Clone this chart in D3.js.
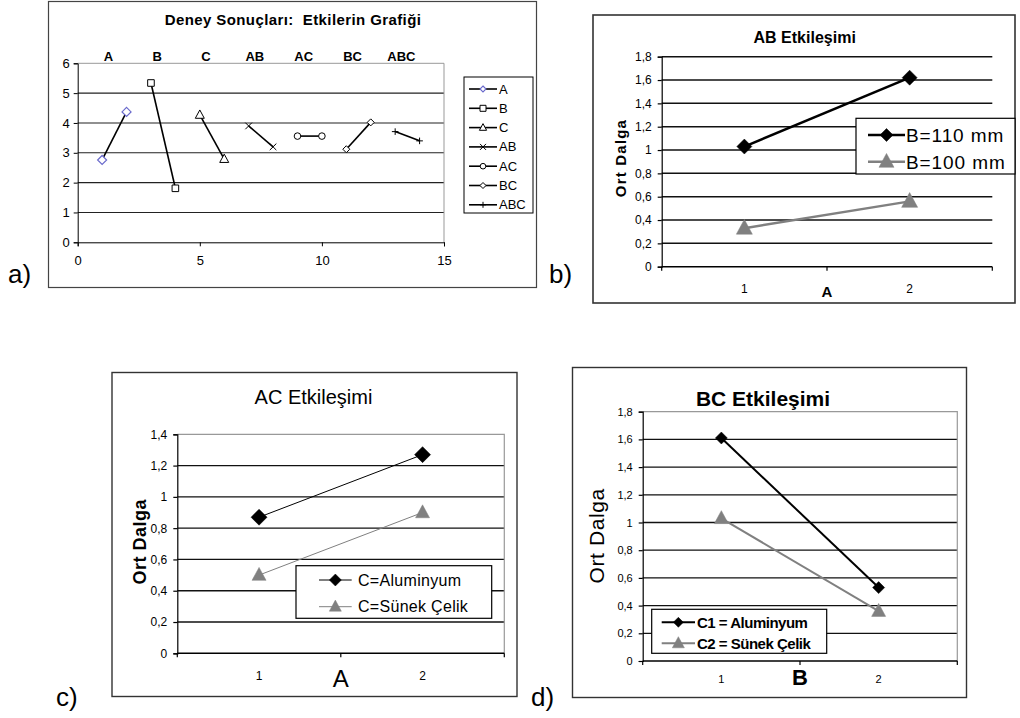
<!DOCTYPE html>
<html>
<head>
<meta charset="utf-8">
<script src="https://cdn.jsdelivr.net/npm/d3@7"></script>
<style>
  body { margin: 0; background: #fff; }
  text { font-family: "Liberation Sans", Arial, sans-serif; fill: #000; }
</style>
</head>
<body>
<div id="chart"></div>
<script>
// a) effects plot - each effect is a pair of runs
const effectNames = ["A", "B", "C", "AB", "AC", "BC", "ABC"];
const effectX = [[1, 2], [3, 4], [5, 6], [7, 8], [9, 10], [11, 12], [13, 14]];
const effectY = [[2.76, 4.37], [5.34, 1.81], [4.27, 2.79], [3.9, 3.2], [3.56, 3.56], [3.12, 4.02], [3.71, 3.4]];
const effectMarkers = ["diamond", "square", "triangle", "x", "circle", "smallDiamond", "plus"];
const effectXTicks = [0, 5, 10, 15];
const effectYTicks = [0, 1, 2, 3, 4, 5, 6];

// b) AB interaction
const abLevels = ["1", "2"];
const abSeries = ["B=110 mm", "B=100 mm"];
const abValues = [[1.03, 1.62], [0.33, 0.56]];

// c) AC interaction
const acLevels = ["1", "2"];
const acSeries = ["C=Aluminyum", "C=Sünek Çelik"];
const acValues = [[0.87, 1.27], [0.5, 0.9]];

// d) BC interaction
const bcLevels = ["1", "2"];
const bcSeries = ["C1 = Aluminyum", "C2 = Sünek Çelik"];
const bcValues = [[1.61, 0.53], [1.03, 0.36]];

const svg = d3.select("#chart")
    .append("svg")
    .attr("width", 1020)
    .attr("height", 718);

const trFormat = d3.formatLocale({ decimal: ",", thousands: ".", grouping: [3], currency: ["", ""] }).format(".1~f");

// draws one marker shape centred at cx,cy
function marker(g, type, cx, cy, s, fill, stroke, sw) {
    if (type === "circle") {
        g.append("circle").attr("cx", cx).attr("cy", cy).attr("r", s)
            .attr("fill", fill).attr("stroke", stroke).attr("stroke-width", sw);
        return;
    }
    let p;
    if (type === "diamond" || type === "smallDiamond") p = `M${cx},${cy - s}L${cx + s},${cy}L${cx},${cy + s}L${cx - s},${cy}Z`;
    else if (type === "square") p = `M${cx - s},${cy - s}h${2 * s}v${2 * s}h${-2 * s}Z`;
    else if (type === "triangle") p = `M${cx},${cy - s * 1.1}L${cx + s},${cy + s * 0.75}L${cx - s},${cy + s * 0.75}Z`;
    else if (type === "x") p = `M${cx - s},${cy - s}L${cx + s},${cy + s}M${cx - s},${cy + s}L${cx + s},${cy - s}`;
    else if (type === "plus") p = `M${cx - s},${cy}L${cx + s},${cy}M${cx},${cy - s}L${cx},${cy + s}`;
    g.append("path").attr("d", p).attr("fill", fill).attr("stroke", stroke).attr("stroke-width", sw);
}

// ---------- panel a ----------
const ga = svg.append("g");
ga.append("rect").attr("x", 48.5).attr("y", 1.5).attr("width", 488).attr("height", 286)
    .attr("fill", "#fff").attr("stroke", "#444").attr("stroke-width", 1.2);

const xa = d3.scaleLinear().domain([0, 15]).range([77.7, 444]);
const ya = d3.scaleLinear().domain([0, 6]).range([242.3, 63.3]);

// grid
ga.selectAll(".grid").data(effectYTicks.slice(1, -1)).enter().append("line")
    .attr("x1", xa(0)).attr("x2", xa(15)).attr("y1", d => ya(d)).attr("y2", d => ya(d))
    .attr("stroke", "#222").attr("stroke-width", 1.1);
ga.append("path").attr("d", `M${xa(0)},${ya(6)}H${xa(15)}V${ya(0)}`)
    .attr("fill", "none").attr("stroke", "#999").attr("stroke-width", 1);

ga.append("g").attr("transform", `translate(${xa(0)},0)`)
    .call(d3.axisLeft(ya).tickValues(effectYTicks).tickFormat(d3.format("d")).tickSize(4).tickPadding(4))
    .call(g => g.selectAll("text").attr("font-size", 13).attr("font-family", "Liberation Sans"))
    .call(g => g.selectAll("path,line").attr("stroke", "#000"));
ga.append("g").attr("transform", `translate(0,${ya(0)})`)
    .call(d3.axisBottom(xa).tickValues(effectXTicks).tickSize(4).tickPadding(9))
    .call(g => g.selectAll("text").attr("font-size", 13).attr("font-family", "Liberation Sans"))
    .call(g => g.selectAll("path,line").attr("stroke", "#000"));

ga.append("text").attr("x", 293).attr("y", 25).attr("text-anchor", "middle")
    .attr("font-size", 15).attr("font-weight", "bold").attr("letter-spacing", 0.4)
    .style("white-space", "pre")
    .text("Deney Sonuçları:  Etkilerin Grafiği");

effectNames.forEach((name, i) => {
    ga.append("text").attr("x", xa(d3.mean(effectX[i])) - 6).attr("y", 61)
        .attr("text-anchor", "middle").attr("font-size", 13).attr("font-weight", "bold").text(name);
    const pts = effectX[i].map((x, j) => [xa(x), ya(effectY[i][j])]);
    ga.append("path").attr("d", d3.line()(pts)).attr("fill", "none").attr("stroke", "#000").attr("stroke-width", 1.6);
    const m = effectMarkers[i];
    pts.forEach(p => {
        if (m === "diamond") marker(ga, m, p[0], p[1], 4.5, "#fff", "#6a6acc", 1.2);
        else if (m === "smallDiamond") marker(ga, m, p[0], p[1], 3.5, "#fff", "#000", 1);
        else if (m === "circle") marker(ga, m, p[0], p[1], 3.3, "#fff", "#000", 1);
        else if (m === "triangle") marker(ga, m, p[0], p[1], 4.5, "#fff", "#000", 1);
        else marker(ga, m, p[0], p[1], 3.3, m === "square" ? "#fff" : "none", "#000", 1);
    });
});

// legend a
ga.append("rect").attr("x", 464).attr("y", 77).attr("width", 69).attr("height", 136)
    .attr("fill", "#fff").attr("stroke", "#000").attr("stroke-width", 1);
effectNames.forEach((name, i) => {
    const cy = 89 + i * 19.3;
    ga.append("line").attr("x1", 469).attr("x2", 497).attr("y1", cy).attr("y2", cy)
        .attr("stroke", "#000").attr("stroke-width", 1.6);
    const m = effectMarkers[i];
    if (m === "diamond") marker(ga, m, 483, cy, 3, "#fff", "#6a6acc", 1.1);
    else if (m === "circle") marker(ga, m, 483, cy, 2.8, "#fff", "#000", 1);
    else if (m === "triangle") marker(ga, m, 483, cy, 3.6, "#fff", "#000", 1);
    else marker(ga, m, 483, cy, 3, m === "plus" || m === "x" ? "none" : "#fff", "#000", 1);
    ga.append("text").attr("x", 499).attr("y", cy).attr("dy", "0.35em").attr("font-size", 13).text(name);
});

// ---------- interaction panels ----------
function interaction(levels, series, values, L) {
    const g = svg.append("g");
    g.append("rect").attr("x", L.frame[0]).attr("y", L.frame[1])
        .attr("width", L.frame[2] - L.frame[0]).attr("height", L.frame[3] - L.frame[1])
        .attr("fill", "#fff").attr("stroke", "#333").attr("stroke-width", L.frameW);

    const x = d3.scaleBand().domain(levels).range([L.plot[0], L.plot[2]]);
    const y = d3.scaleLinear().domain([0, L.yMax]).range([L.plot[3], L.plot[1]]);
    const yTicks = d3.range(0, L.yMax + 0.001, 0.2);

    g.selectAll(".grid").data(yTicks.slice(1, L.border ? -1 : yTicks.length)).enter().append("line")
        .attr("x1", L.plot[0]).attr("x2", L.plot[2]).attr("y1", d => y(d)).attr("y2", d => y(d))
        .attr("stroke", "#111").attr("stroke-width", L.gridW);
    if (L.border) {
        g.append("path").attr("d", `M${L.plot[0]},${y(L.yMax)}H${L.plot[2]}V${y(0)}`)
            .attr("fill", "none").attr("stroke", "#999").attr("stroke-width", 1.2);
    }

    g.append("g").attr("transform", `translate(${L.plot[0]},0)`)
        .call(d3.axisLeft(y).tickValues(yTicks).tickFormat(trFormat).tickSize(4).tickPadding(L.tickPad))
        .call(a => a.selectAll("text").attr("font-size", L.tickFont).attr("font-family", "Liberation Sans"))
        .call(a => a.selectAll("path,line").attr("stroke", "#000").attr("stroke-width", 1.2));

    // x axis: ticks sit on the band edges, labels at band centres
    const edges = [L.plot[0], L.plot[0] + x.bandwidth(), L.plot[2]];
    g.append("line").attr("x1", L.plot[0]).attr("x2", L.plot[2]).attr("y1", y(0)).attr("y2", y(0))
        .attr("stroke", "#000").attr("stroke-width", 1.4);
    g.selectAll(".xt").data(edges).enter().append("line")
        .attr("x1", d => d).attr("x2", d => d).attr("y1", y(0)).attr("y2", y(0) + 4)
        .attr("stroke", "#000").attr("stroke-width", 1.2);
    g.selectAll(".xl").data(levels).enter().append("text")
        .attr("x", d => x(d) + x.bandwidth() / 2).attr("y", L.xTickY)
        .attr("text-anchor", "middle").attr("font-size", L.tickFont).text(d => d);

    g.append("text").attr("x", L.title.x).attr("y", L.title.y).attr("text-anchor", "middle")
        .attr("font-size", L.title.size).attr("font-weight", L.title.weight).text(L.title.text);
    g.append("text").attr("transform", `translate(${L.yLabel.x},${L.yLabel.y}) rotate(-90)`)
        .attr("text-anchor", "middle").attr("font-size", L.yLabel.size).attr("font-weight", L.yLabel.weight)
        .attr("letter-spacing", L.yLabel.ls).text("Ort Dalga");
    g.append("text").attr("x", edges[1]).attr("y", L.xLabel.y).attr("text-anchor", "middle")
        .attr("font-size", L.xLabel.size).attr("font-weight", L.xLabel.weight).text(L.xLabel.text);

    const colors = ["#000", "#808080"];
    const shapes = ["diamond", "triangle"];
    values.forEach((vals, i) => {
        const pts = levels.map((lv, j) => [x(lv) + x.bandwidth() / 2, y(vals[j])]);
        g.append("path").attr("d", d3.line()(pts)).attr("fill", "none")
            .attr("stroke", colors[i]).attr("stroke-width", L.lineW);
        pts.forEach(p => marker(g, shapes[i], p[0], p[1], L.mSize[i], colors[i], colors[i], 0.5));
    });

    const lg = L.legend;
    g.append("rect").attr("x", lg.box[0]).attr("y", lg.box[1])
        .attr("width", lg.box[2] - lg.box[0]).attr("height", lg.box[3] - lg.box[1])
        .attr("fill", "#fff").attr("stroke", "#000").attr("stroke-width", 1.2);
    series.forEach((s, i) => {
        const cy = lg.rows[i];
        g.append("line").attr("x1", lg.line[0]).attr("x2", lg.line[1]).attr("y1", cy).attr("y2", cy)
            .attr("stroke", colors[i]).attr("stroke-width", L.lineW);
        marker(g, shapes[i], (lg.line[0] + lg.line[1]) / 2, cy, lg.mSize[i], colors[i], colors[i], 0.5);
        g.append("text").attr("x", lg.textX).attr("y", cy).attr("dy", "0.36em")
            .attr("font-size", lg.size).attr("font-weight", lg.weight).attr("letter-spacing", lg.ls)
            .text(s);
    });
}

interaction(abLevels, abSeries, abValues, {
    frame: [593, 15, 1015, 303], frameW: 1.6, plot: [661.7, 56.7, 992.3, 266.7], yMax: 1.8,
    border: false, gridW: 1.5, tickFont: 12, tickPad: 6, xTickY: 292.5, lineW: 2.5, mSize: [7.5, 8],
    title: { text: "AB Etkileşimi", x: 804.7, y: 43.3, size: 16, weight: "bold" },
    yLabel: { x: 626, y: 158, size: 15, weight: "bold", ls: 1.2 },
    xLabel: { text: "A", y: 296.7, size: 15, weight: "bold" },
    legend: { box: [856, 118.3, 1015, 174], rows: [135, 161.7], line: [868, 905], textX: 906,
        size: 19, weight: "normal", ls: 0.9, mSize: [6.5, 7.5] }
});

interaction(acLevels, acSeries, acValues, {
    frame: [112, 372.5, 517, 696.5], frameW: 1.4, plot: [177.3, 434.3, 504.3, 653.3], yMax: 1.4,
    border: true, gridW: 1.3, tickFont: 12, tickPad: 6, xTickY: 680, lineW: 1, mSize: [8, 7],
    title: { text: "AC Etkileşimi", x: 313.5, y: 404, size: 20, weight: "normal" },
    yLabel: { x: 146, y: 541.7, size: 18, weight: "bold", ls: 0.5 },
    xLabel: { text: "A", y: 686.7, size: 24, weight: "normal" },
    legend: { box: [296, 565.7, 491.7, 618.3], rows: [580, 606.7], line: [319, 351.7], textX: 358,
        size: 16, weight: "normal", ls: 0.3, mSize: [6, 6] }
});

interaction(bcLevels, bcSeries, bcValues, {
    frame: [572.5, 367.5, 966.5, 697.5], frameW: 1.4, plot: [642.7, 411.7, 957.3, 661], yMax: 1.8,
    border: true, gridW: 1.3, tickFont: 11, tickPad: 6, xTickY: 683.3, lineW: 2, mSize: [6, 7],
    title: { text: "BC Etkileşimi", x: 763, y: 406, size: 21, weight: "bold" },
    yLabel: { x: 604, y: 535.8, size: 21, weight: "normal", ls: 0.6 },
    xLabel: { text: "B", y: 685, size: 22, weight: "bold" },
    legend: { box: [651.7, 609.3, 826.7, 653.3], rows: [622.3, 643.3], line: [661.7, 695], textX: 697,
        size: 15, weight: "bold", ls: -0.5, mSize: [5, 6] }
});

// panel letters
const letters = [["a)", 8, 283], ["b)", 549, 283], ["c)", 56, 706], ["d)", 531, 706]];
svg.selectAll(".letter").data(letters).enter().append("text")
    .attr("x", d => d[1]).attr("y", d => d[2]).attr("font-size", 26).text(d => d[0]);
</script>
</body>
</html>
